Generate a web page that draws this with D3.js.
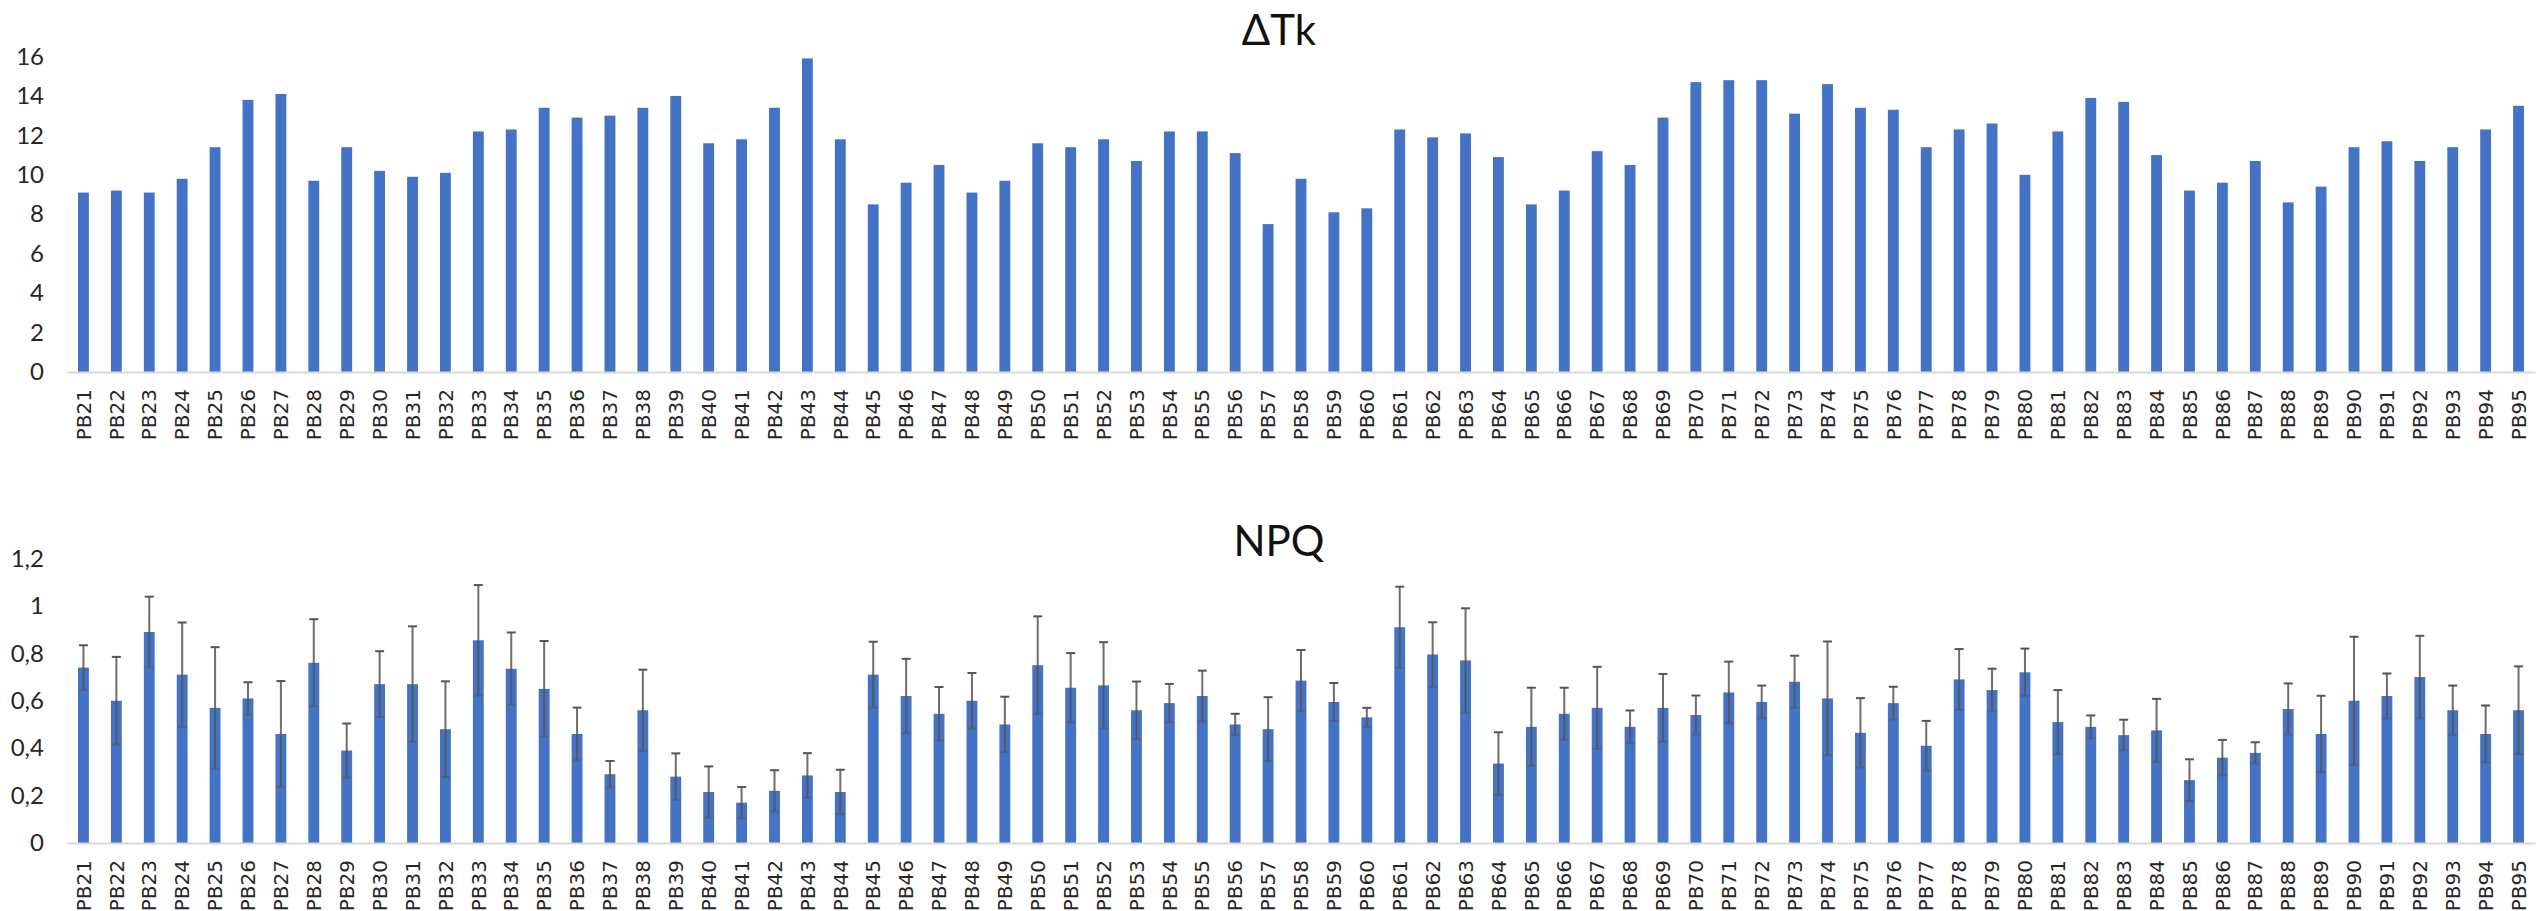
<!DOCTYPE html>
<html>
<head>
<meta charset="utf-8">
<script src="https://cdn.jsdelivr.net/npm/d3@7"></script>
<style>
  body { margin: 0; background: #fff; }
  .ytick text { font-family: Lato, "Open Sans", sans-serif; font-size: 24px; fill: #262626; }
  .xtick text { font-family: "DejaVu Sans", Verdana, sans-serif; font-size: 20px; fill: #262626; }
  .title { font-family: Lato, "Open Sans", sans-serif; font-size: 42px; fill: #111; }
</style>
</head>
<body>
<svg id="chart"></svg>
<script>
let categories = ["PB21","PB22","PB23","PB24","PB25","PB26","PB27","PB28","PB29","PB30",
  "PB31","PB32","PB33","PB34","PB35","PB36","PB37","PB38","PB39","PB40",
  "PB41","PB42","PB43","PB44","PB45","PB46","PB47","PB48","PB49","PB50",
  "PB51","PB52","PB53","PB54","PB55","PB56","PB57","PB58","PB59","PB60",
  "PB61","PB62","PB63","PB64","PB65","PB66","PB67","PB68","PB69","PB70",
  "PB71","PB72","PB73","PB74","PB75","PB76","PB77","PB78","PB79","PB80",
  "PB81","PB82","PB83","PB84","PB85","PB86","PB87","PB88","PB89","PB90",
  "PB91","PB92","PB93","PB94","PB95"];

let dtk = [9.1, 9.2, 9.1, 9.8, 11.4, 13.8, 14.1, 9.7, 11.4, 10.2,
  9.9, 10.1, 12.2, 12.3, 13.4, 12.9, 13.0, 13.4, 14.0, 11.6,
  11.8, 13.4, 15.9, 11.8, 8.5, 9.6, 10.5, 9.1, 9.7, 11.6,
  11.4, 11.8, 10.7, 12.2, 12.2, 11.1, 7.5, 9.8, 8.1, 8.3,
  12.3, 11.9, 12.1, 10.9, 8.5, 9.2, 11.2, 10.5, 12.9, 14.7,
  14.8, 14.8, 13.1, 14.6, 13.4, 13.3, 11.4, 12.3, 12.6, 10.0,
  12.2, 13.9, 13.7, 11.0, 9.2, 9.6, 10.7, 8.6, 9.4, 11.4,
  11.7, 10.7, 11.4, 12.3, 13.5];

let npq = [0.74, 0.60, 0.89, 0.71, 0.57, 0.61, 0.46, 0.76, 0.39, 0.67,
  0.67, 0.48, 0.855, 0.735, 0.65, 0.46, 0.29, 0.56, 0.28, 0.215,
  0.17, 0.22, 0.285, 0.215, 0.71, 0.62, 0.545, 0.60, 0.50, 0.75,
  0.655, 0.665, 0.56, 0.59, 0.62, 0.50, 0.48, 0.685, 0.595, 0.53,
  0.91, 0.795, 0.77, 0.335, 0.49, 0.545, 0.57, 0.49, 0.57, 0.54,
  0.635, 0.595, 0.68, 0.61, 0.465, 0.59, 0.41, 0.69, 0.645, 0.72,
  0.51, 0.49, 0.455, 0.475, 0.265, 0.36, 0.38, 0.565, 0.46, 0.60,
  0.62, 0.70, 0.56, 0.46, 0.56];

let npqErr = [0.094, 0.185, 0.149, 0.22, 0.256, 0.068, 0.223, 0.184, 0.114, 0.139,
  0.244, 0.202, 0.233, 0.153, 0.202, 0.111, 0.056, 0.171, 0.098, 0.108,
  0.066, 0.087, 0.094, 0.094, 0.139, 0.157, 0.113, 0.117, 0.117, 0.206,
  0.146, 0.182, 0.121, 0.081, 0.107, 0.045, 0.135, 0.129, 0.080, 0.040,
  0.171, 0.136, 0.220, 0.132, 0.165, 0.110, 0.173, 0.069, 0.143, 0.082,
  0.130, 0.069, 0.110, 0.240, 0.146, 0.069, 0.105, 0.128, 0.090, 0.100,
  0.135, 0.048, 0.065, 0.133, 0.088, 0.075, 0.045, 0.108, 0.161, 0.270,
  0.095, 0.174, 0.104, 0.120, 0.185];

let dtkTicks = [0, 2, 4, 6, 8, 10, 12, 14, 16];
let npqTicks = [0, 0.2, 0.4, 0.6, 0.8, 1, 1.2];

let width = 2539, height = 911;
let barColor = "#4472C4";

let svg = d3.select("#chart")
    .attr("width", width)
    .attr("height", height);

let x = d3.scaleBand()
    .domain(categories)
    .range([67, 2535])
    .paddingInner(0.67)
    .paddingOuter(0.335);

// draws one panel: axes, bars, title
function panel(values, ticks, yRange, title, titleY, fmt) {
    let y = d3.scaleLinear().domain([ticks[0], ticks[ticks.length - 1]]).range(yRange);
    let g = svg.append("g");

    let yAxis = g.append("g")
        .attr("class", "ytick")
        .attr("transform", "translate(44,0)")
        .call(d3.axisLeft(y).tickValues(ticks).tickSize(0).tickPadding(0).tickFormat(fmt));
    yAxis.select(".domain").remove();

    g.selectAll("rect.bar")
        .data(values)
        .enter()
        .append("rect")
        .attr("class", "bar")
        .attr("x", (d, i) => x(categories[i]))
        .attr("width", x.bandwidth())
        .attr("y", d => y(d))
        .attr("height", d => y(0) - y(d))
        .attr("fill", barColor);

    let xAxis = g.append("g")
        .attr("class", "xtick")
        .attr("transform", "translate(0," + y(0) + ")")
        .call(d3.axisBottom(x).tickSize(0).tickSizeOuter(0));
    xAxis.select(".domain").attr("stroke", "#d9d9d9").attr("stroke-width", 2);
    xAxis.selectAll("text")
        .attr("transform", "rotate(-90)")
        .attr("text-anchor", "end")
        .attr("x", -17)
        .attr("y", 0)
        .attr("dy", "0.36em");

    g.append("text")
        .attr("class", "title")
        .attr("x", 1279)
        .attr("y", titleY)
        .attr("text-anchor", "middle")
        .text(title);

    return { g: g, y: y };
}

let topPanel = panel(dtk, dtkTicks, [372, 56.5], "ΔTk", 45, d => String(d));
let npqPanel = panel(npq, npqTicks, [843, 558.5], "NPQ", 556, d => String(d).replace(".", ","));

// error bars on the NPQ panel
let yb = npqPanel.y;
let eb = npqPanel.g.append("g")
    .attr("stroke", "#555")
    .attr("stroke-width", 2);

let errs = npq.map((v, i) => ({ cat: categories[i], v: v, e: npqErr[i] }));
let cx = d => x(d.cat) + x.bandwidth() / 2;

eb.selectAll("line.stem")
    .data(errs)
    .enter()
    .append("line")
    .attr("x1", cx).attr("x2", cx)
    .attr("y1", d => yb(d.v - d.e))
    .attr("y2", d => yb(d.v + d.e))
    .attr("stroke-opacity", 0.85);

eb.selectAll("line.capTop")
    .data(errs)
    .enter()
    .append("line")
    .attr("x1", d => cx(d) - 4.5).attr("x2", d => cx(d) + 4.5)
    .attr("y1", d => yb(d.v + d.e))
    .attr("y2", d => yb(d.v + d.e));

eb.selectAll("line.capBottom")
    .data(errs)
    .enter()
    .append("line")
    .attr("x1", d => cx(d) - 4.5).attr("x2", d => cx(d) + 4.5)
    .attr("y1", d => yb(d.v - d.e))
    .attr("y2", d => yb(d.v - d.e))
    .attr("stroke-opacity", 0.5);
</script>
</body>
</html>
